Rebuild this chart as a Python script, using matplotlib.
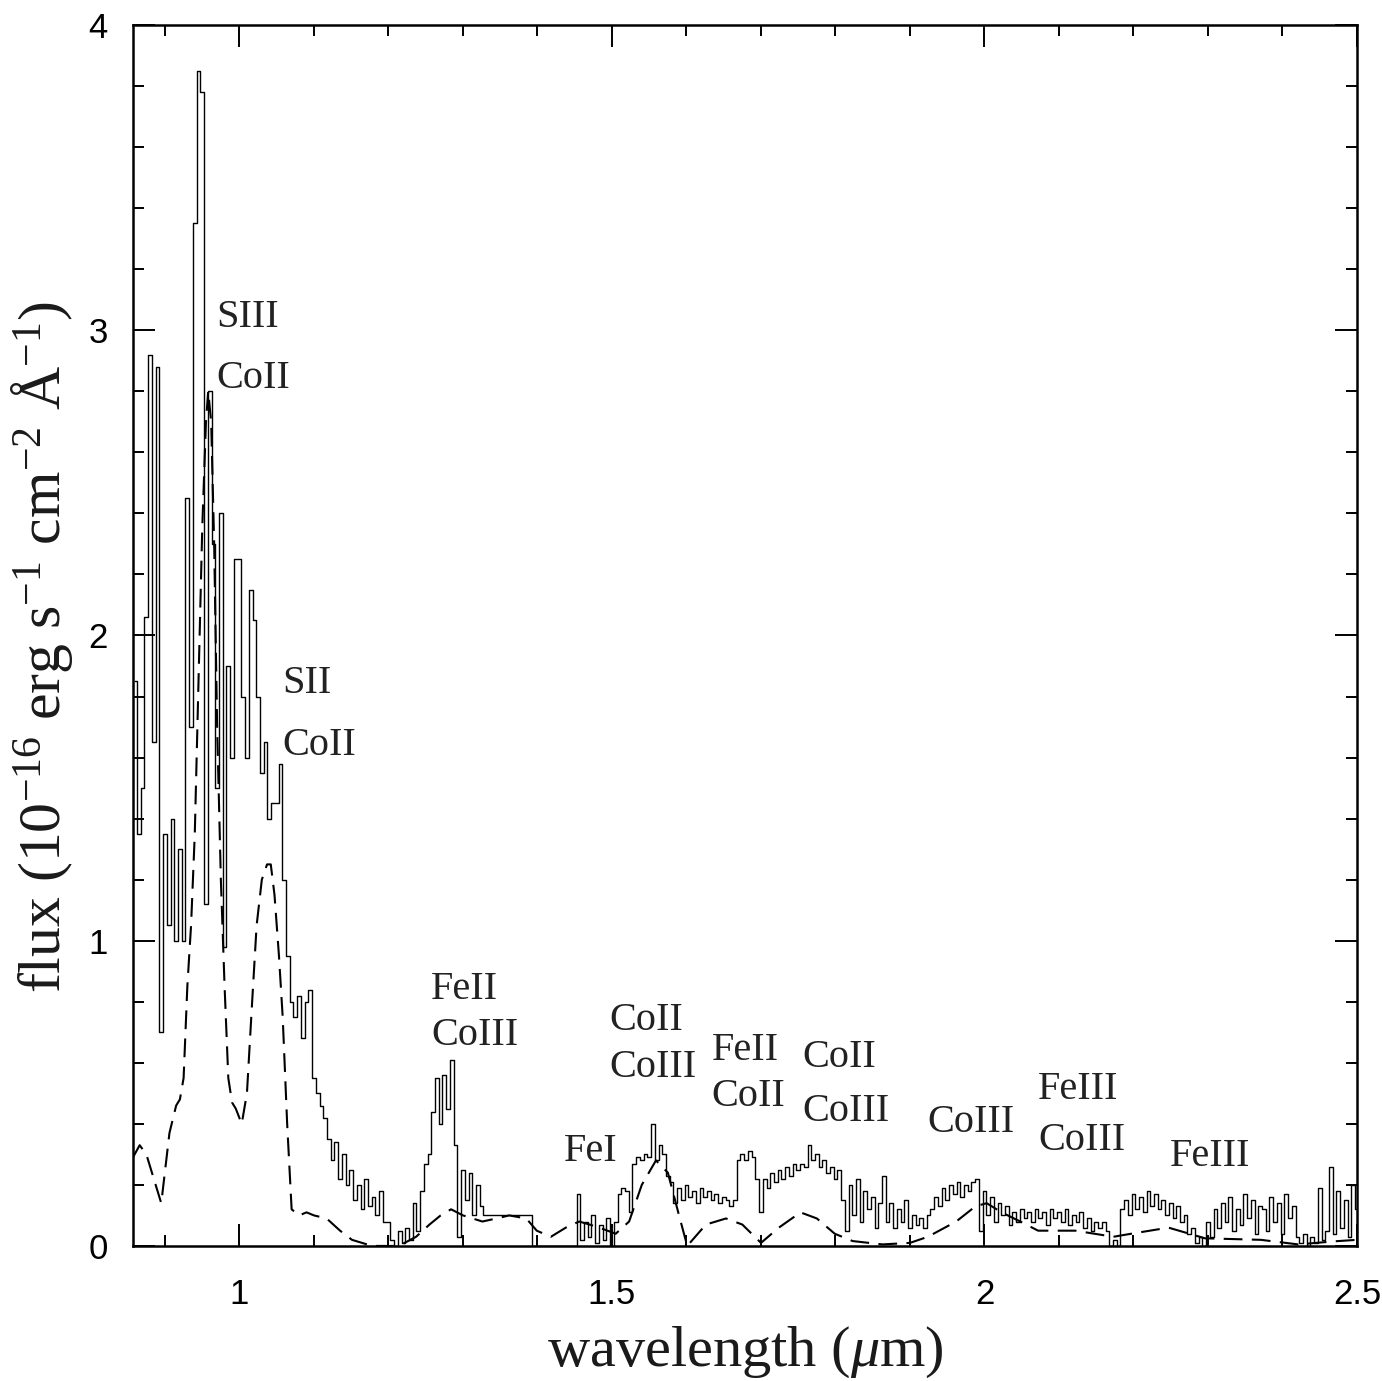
import numpy as np
import matplotlib
matplotlib.use("Agg")
import matplotlib.pyplot as plt
from matplotlib.ticker import MultipleLocator

# observed spectrum, 0.005 um bins starting at 0.860 um (one row = 0.1 um)
flux = (
    [1.85, 1.35, 1.50, 2.06, 2.92, 1.65, 2.88, 0.70, 1.35, 1.05, 1.40, 1.00, 1.30, 1.00, 2.45, 1.70, 3.35, 3.85, 3.78, 1.12]
    + [2.80, 2.30, 1.50, 2.40, 0.98, 1.90, 1.60, 2.25, 2.25, 1.80, 1.60, 2.15, 2.05, 1.80, 1.55, 1.65, 1.40, 1.45, 1.45, 1.58]
    + [1.20, 0.95, 0.80, 0.75, 0.82, 0.68, 0.80, 0.84, 0.55, 0.50, 0.46, 0.42, 0.35, 0.28, 0.34, 0.22, 0.30, 0.20, 0.25, 0.15]
    + [0.20, 0.12, 0.22, 0.13, 0.16, 0.10, 0.18, 0.08, 0.08, 0.02, 0.00, 0.05, 0.01, 0.06, 0.02, 0.14, 0.05, 0.18, 0.27, 0.30]
    + [0.44, 0.55, 0.40, 0.56, 0.45, 0.61, 0.33, 0.03, 0.25, 0.15, 0.24, 0.10, 0.20, 0.13, 0.10, 0.10, 0.10, 0.10, 0.10, 0.10]
    + [0.10, 0.10, 0.10, 0.10, 0.10, 0.10, 0.10, 0.00, 0.00, 0.00, 0.00, 0.00, 0.00, 0.00, 0.00, 0.00, 0.00, 0.00, 0.00, 0.17]
    + [0.02, 0.08, 0.03, 0.10, 0.01, 0.07, 0.02, 0.09, 0.00, 0.08, 0.17, 0.19, 0.18, 0.11, 0.27, 0.29, 0.28, 0.30, 0.29, 0.40]
    + [0.28, 0.33, 0.30, 0.23, 0.21, 0.14, 0.19, 0.15, 0.20, 0.16, 0.18, 0.14, 0.19, 0.16, 0.18, 0.15, 0.17, 0.14, 0.16, 0.15]
    + [0.13, 0.15, 0.28, 0.30, 0.28, 0.31, 0.29, 0.22, 0.11, 0.22, 0.19, 0.24, 0.21, 0.25, 0.22, 0.26, 0.23, 0.27, 0.25, 0.27]
    + [0.26, 0.33, 0.28, 0.30, 0.26, 0.28, 0.24, 0.26, 0.22, 0.25, 0.15, 0.05, 0.20, 0.10, 0.22, 0.08, 0.18, 0.12, 0.16, 0.06]
    + [0.14, 0.23, 0.08, 0.14, 0.06, 0.12, 0.08, 0.15, 0.06, 0.10, 0.07, 0.09, 0.06, 0.10, 0.12, 0.16, 0.13, 0.19, 0.15, 0.20]
    + [0.17, 0.21, 0.16, 0.20, 0.18, 0.21, 0.22, 0.05, 0.18, 0.10, 0.16, 0.08, 0.14, 0.10, 0.13, 0.07, 0.11, 0.08, 0.12, 0.09]
    + [0.11, 0.08, 0.12, 0.09, 0.11, 0.07, 0.12, 0.09, 0.11, 0.08, 0.12, 0.07, 0.10, 0.08, 0.11, 0.06, 0.09, 0.05, 0.08, 0.06]
    + [0.08, 0.05, 0.00, 0.02, 0.00, 0.12, 0.15, 0.10, 0.17, 0.12, 0.16, 0.11, 0.18, 0.13, 0.17, 0.12, 0.15, 0.10, 0.14, 0.09]
    + [0.13, 0.08, 0.10, 0.04, 0.06, 0.01, 0.03, 0.00, 0.08, 0.03, 0.12, 0.06, 0.14, 0.08, 0.16, 0.05, 0.12, 0.07, 0.17, 0.09]
    + [0.15, 0.04, 0.13, 0.12, 0.05, 0.16, 0.08, 0.14, 0.04, 0.17, 0.09, 0.13, 0.03, 0.01, 0.04, 0.00, 0.03, 0.01, 0.19, 0.02]
    + [0.05, 0.26, 0.04, 0.18, 0.06, 0.15, 0.03, 0.20, 0.12]
)
wave = np.round(0.860 + 0.005 * np.arange(len(flux)), 3)

# model spectrum (dashed)
model_wave = [0.857, 0.866, 0.875, 0.885, 0.895, 0.906, 0.915, 0.920, 0.925, 0.930,
              0.935, 0.940, 0.945, 0.950, 0.955, 0.958, 0.962, 0.966, 0.970, 0.975,
              0.980, 0.985, 0.990, 0.995, 1.003, 1.010, 1.017, 1.023, 1.030, 1.037,
              1.042, 1.047, 1.053, 1.058, 1.064, 1.070, 1.080, 1.090, 1.100, 1.117,
              1.135, 1.151, 1.178, 1.200, 1.214, 1.237, 1.255, 1.270, 1.284, 1.300,
              1.326, 1.345, 1.362, 1.385, 1.399, 1.418, 1.438, 1.456, 1.470, 1.483,
              1.505, 1.523, 1.540, 1.559, 1.575, 1.590, 1.601, 1.626, 1.653, 1.675,
              1.700, 1.724, 1.753, 1.775, 1.799, 1.823, 1.863, 1.900, 1.924, 1.962,
              1.988, 2.003, 2.023, 2.048, 2.072, 2.122, 2.173, 2.197, 2.247, 2.296,
              2.371, 2.421, 2.469, 2.500]
model_flux = [0.29, 0.33, 0.30, 0.22, 0.14, 0.37, 0.46, 0.48, 0.55, 0.85,
              1.05, 1.35, 1.85, 2.35, 2.70, 2.80, 2.70, 2.30, 1.70, 1.20,
              0.85, 0.55, 0.47, 0.45, 0.40, 0.50, 0.80, 1.05, 1.20, 1.25,
              1.25, 1.15, 0.95, 0.75, 0.40, 0.12, 0.10, 0.11, 0.10, 0.09,
              0.05, 0.02, 0.00, 0.00, 0.00, 0.03, 0.07, 0.10, 0.12, 0.10,
              0.08, 0.09, 0.10, 0.09, 0.05, 0.03, 0.06, 0.08, 0.07, 0.06,
              0.04, 0.08, 0.20, 0.28, 0.24, 0.10, 0.00, 0.07, 0.09, 0.07,
              0.01, 0.06, 0.11, 0.09, 0.04, 0.016, 0.005, 0.01, 0.03, 0.08,
              0.13, 0.14, 0.11, 0.08, 0.05, 0.05, 0.03, 0.04, 0.06, 0.025,
              0.02, 0.005, 0.015, 0.02]

# line identifications
line_labels = ["SIII", "CoII", "SII", "CoII", "FeII", "CoIII", "FeI", "CoII", "CoIII",
               "FeII", "CoII", "CoII", "CoIII", "CoIII", "FeIII", "CoIII", "FeIII"]
label_x = [0.969, 0.969, 1.058, 1.058, 1.257, 1.257, 1.436, 1.496, 1.496,
           1.634, 1.634, 1.755, 1.755, 1.924, 2.072, 2.072, 2.249]
label_y = [3.043, 2.843, 1.841, 1.641, 0.839, 0.688, 0.311, 0.737, 0.586,
           0.639, 0.488, 0.616, 0.442, 0.406, 0.514, 0.344, 0.292]

plt.rcParams['mathtext.fontset'] = 'custom'
plt.rcParams['mathtext.rm'] = 'Liberation Serif'
plt.rcParams['mathtext.it'] = 'Liberation Serif:italic'

fig = plt.figure(figsize=(13.82, 13.81), dpi=100)
ax = fig.add_axes([0.0962, 0.0978, 0.8857, 0.8841])

ax.step(wave, flux, where='mid', color='black', lw=1.0)
ax.plot(model_wave, model_flux, color='black', lw=1.5, linestyle=(0, (9, 4.5)))

for txt, lx, ly in zip(line_labels, label_x, label_y):
    ax.text(lx, ly, txt, fontsize=29, family='Liberation Serif', color='#222222',
            ha='left', va='center')

ax.set_xlim(0.857, 2.5)
ax.set_ylim(0, 4)
ax.xaxis.set_minor_locator(MultipleLocator(0.1))
ax.yaxis.set_minor_locator(MultipleLocator(0.2))
ax.set_xticks([1, 1.5, 2, 2.5])
ax.set_xticklabels(['1', '1.5', '2', '2.5'])
ax.set_yticks([0, 1, 2, 3, 4])
ax.set_yticklabels(['0', '1', '2', '3', '4'])
ax.tick_params(which='both', direction='in', top=True, right=True, width=1.4,
               labelsize=25)
ax.tick_params(axis='x', which='major', pad=23)
ax.tick_params(axis='y', which='major', pad=18)
ax.tick_params(which='major', length=16)
ax.tick_params(which='minor', length=8)
for lab in ax.get_xticklabels() + ax.get_yticklabels():
    lab.set_family('Liberation Sans')
for sp in ax.spines.values():
    sp.set_linewidth(1.8)

fig.text(745 / 1382, 1 - 1352 / 1381, r'wavelength ($\mu$m)', fontsize=42,
         family='Liberation Serif', color='#1a1a1a', ha='center', va='center')
fig.text(42 / 1382, 1 - 647 / 1381,
         r'flux (10$^{-16}$ erg s$^{-1}$ cm$^{-2}$ $\mathrm{\AA}^{-1}$)',
         fontsize=43, family='Liberation Serif', color='#1a1a1a',
         rotation=90, ha='center', va='center')

fig.savefig('out.png', dpi=100)
